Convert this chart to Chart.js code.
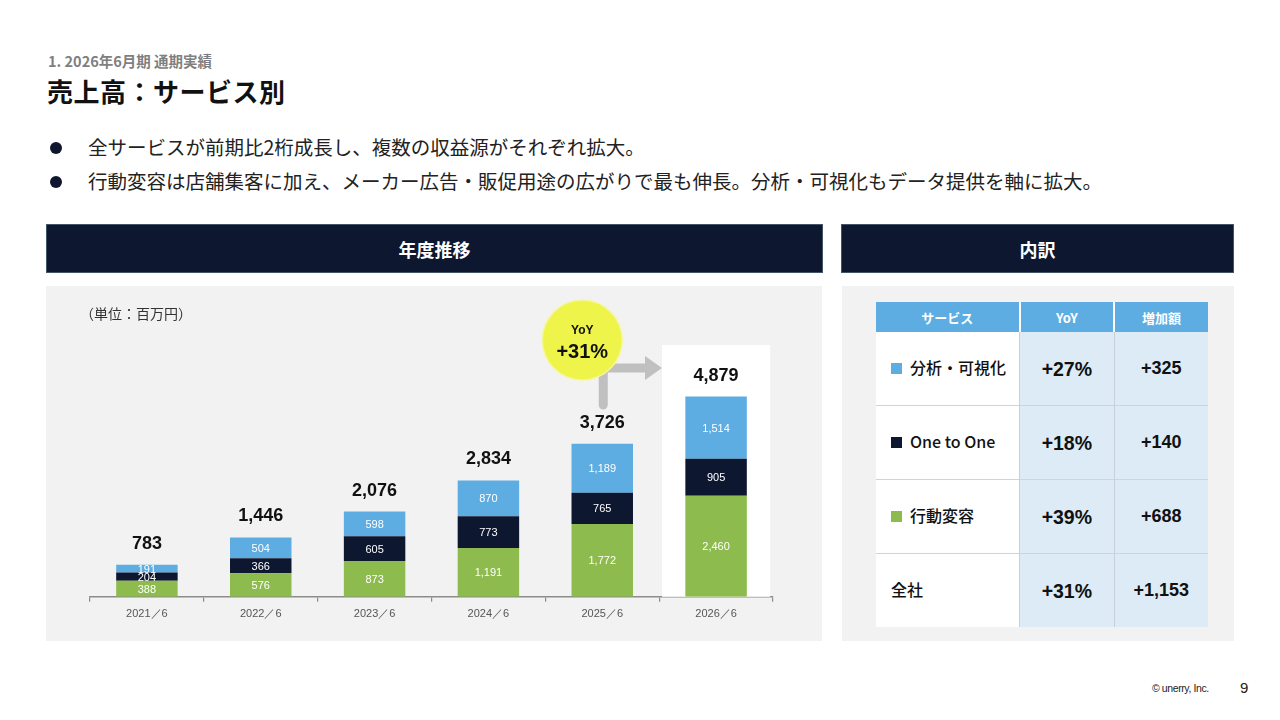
<!DOCTYPE html>
<html lang="ja">
<head>
<meta charset="utf-8">
<script src="https://cdn.jsdelivr.net/npm/chart.js@4.4.1/dist/chart.umd.min.js"></script>
<style>
  html, body { margin:0; padding:0; background:#fff; }
  body { width:1280px; height:720px; position:relative; overflow:hidden;
         font-family:"Noto Sans CJK JP","Noto Sans",sans-serif; color:#222; }
  .abs { position:absolute; }
  #sub { left:48px; top:50px; font-size:14.5px; font-weight:700; color:#7f7f7f; }
  #title { left:47px; top:72px; font-size:26px; font-weight:700; color:#111; letter-spacing:0.5px; }
  .bullet { left:48px; font-size:19.5px; color:#222; white-space:nowrap; }
  .bullet .dot { display:inline-block; width:12px; height:12px; border-radius:50%; background:#0f172e;
                 position:absolute; left:2px; top:8px; }
  .bullet .txt { position:absolute; left:40px; top:-2px; }
  .sec { background:#0e1730; border:1px solid #44546a; color:#fff; font-size:18px; font-weight:700;
         display:flex; align-items:center; justify-content:center; box-sizing:border-box; }
  .panel { background:#f2f2f2; }
  #unit { left:80px; top:303px; font-size:14px; color:#333; }
  table { border-collapse:collapse; position:absolute; left:876px; top:302px; width:332px; }
  th { background:#5dade2; color:#fff; font-size:13px; font-weight:700; height:30px; padding:0;
       border-left:2px solid #fff; }
  th:first-child { border-left:none; }
  td { height:73px; padding:0; border-top:1.5px solid #cdd5dc; }
  tr:first-child td { border-top:none; }
  td.lab { background:#fff; width:145px; font-size:16px; font-weight:500; color:#111; padding-left:15px; box-sizing:border-box; }
  td.lab .in { position:relative; top:-2px; }
  td.v { background:#ddebf7; width:94px; text-align:center; font-family:"Liberation Sans",Arial,sans-serif;
         font-weight:700; font-size:18px; color:#111; border-left:1.5px solid #c6d0da; }
  td.v.yoy { font-size:19.5px; }
  td.v.yoy .in { position:relative; top:1px; }
  td.lab .sq { display:inline-block; width:11px; height:11px; margin-right:8px; vertical-align:0px; }
  #copy { left:1152px; top:682px; font-size:10.5px; color:#222; font-family:"Liberation Sans",Arial,sans-serif; letter-spacing:-0.4px; }
  #page { left:1240px; top:679px; font-size:15px; color:#222; font-family:"Liberation Sans",Arial,sans-serif; }
  #chartBox { left:46px; top:286px; width:776px; height:355px; }
</style>
</head>
<body>
<div class="abs" id="sub">1. 2026年6月期 通期実績</div>
<div class="abs" id="title">売上高：サービス別</div>
<div class="abs bullet" style="top:134px;"><span class="dot"></span><span class="txt">全サービスが前期比2桁成長し、複数の収益源がそれぞれ拡大。</span></div>
<div class="abs bullet" style="top:168px;"><span class="dot"></span><span class="txt">行動変容は店舗集客に加え、メーカー広告・販促用途の広がりで最も伸長。分析・可視化もデータ提供を軸に拡大。</span></div>

<div class="abs sec" style="left:46px; top:224px; width:777px; height:49px;">年度推移</div>
<div class="abs sec" style="left:841px; top:224px; width:393px; height:49px;">内訳</div>

<div class="abs panel" style="left:46px; top:286px; width:776px; height:355px;"></div>
<div class="abs panel" style="left:842px; top:286px; width:392px; height:355px;"></div>

<div class="abs" id="chartBox"><canvas id="c"></canvas></div>
<div class="abs" id="unit">（単位：百万円）</div>

<table>
  <thead><tr><th>サービス</th><th>YoY</th><th>増加額</th></tr></thead>
  <tbody id="tb"></tbody>
</table>

<div class="abs" id="copy">© unerry, Inc.</div>
<div class="abs" id="page">9</div>

<script>
// ---- data ----
const categories = ["2021／6","2022／6","2023／6","2024／6","2025／6","2026／6"];
const behaviorChange = [388, 576, 873, 1191, 1772, 2460];   // 行動変容
const oneToOne      = [204, 366, 605, 773, 765, 905];       // One to One
const analytics     = [191, 504, 598, 870, 1189, 1514];     // 分析・可視化
const totals        = [783, 1446, 2076, 2834, 3726, 4879];
const yoyLabel = "+31%";

const tableServices = ["分析・可視化", "One to One", "行動変容", "全社"];
const tableYoY      = ["+27%", "+18%", "+39%", "+31%"];
const tableIncrease = ["+325", "+140", "+688", "+1,153"];

const colors = { analytics:"#5dade2", oneToOne:"#0e1730", behavior:"#8dbb4e" };
const tableColors = [colors.analytics, colors.oneToOne, colors.behavior, null];

// ---- table ----
const tb = document.getElementById('tb');
tableServices.forEach((s, i) => {
  const tr = document.createElement('tr');
  const sq = tableColors[i] ? `<span class="sq" style="background:${tableColors[i]}"></span>` : '';
  tr.innerHTML = `<td class="lab"><span class="in">${sq}${s}</span></td><td class="v yoy"><span class="in">${tableYoY[i]}</span></td><td class="v">${tableIncrease[i]}</td>`;
  tb.appendChild(tr);
});

// ---- chart ----
const fmt = v => v.toLocaleString('en-US');

const decor = {
  id: 'decor',
  beforeDatasetsDraw(chart) {
    const { ctx, scales: { x, y } } = chart;
    const cx = x.getPixelForValue(5);
    const half = (x.getPixelForValue(1) - x.getPixelForValue(0)) * 0.475;
    const top = y.getPixelForValue(6134);
    ctx.save();
    ctx.fillStyle = '#ffffff';
    ctx.fillRect(cx - half, top, half * 2, y.getPixelForValue(0) - top);
    ctx.restore();
  },
  afterDatasetsDraw(chart) {
    const { ctx, scales: { x, y } } = chart;
    ctx.save();
    // segment labels
    ctx.textAlign = 'center';
    ctx.textBaseline = 'middle';
    ctx.font = '11px "Liberation Sans", Arial, sans-serif';
    chart.data.datasets.forEach((ds, di) => {
      const meta = chart.getDatasetMeta(di);
      meta.data.forEach((bar, i) => {
        ctx.fillStyle = '#ffffff';
        ctx.fillText(fmt(ds.data[i]), bar.x, (bar.y + bar.base) / 2 + 1);
      });
    });
    // totals
    ctx.font = 'bold 18px "Liberation Sans", Arial, sans-serif';
    ctx.fillStyle = '#111';
    const topMeta = chart.getDatasetMeta(chart.data.datasets.length - 1);
    topMeta.data.forEach((bar, i) => {
      ctx.fillText(fmt(totals[i]), bar.x, bar.y - 21);
    });
    // arrow
    const x4 = x.getPixelForValue(4), x5 = x.getPixelForValue(5);
    const half = (x5 - x4) * 0.475;
    const ax = x4 + 1;
    const ayTop = y.getPixelForValue(5575);
    const ayBot = y.getPixelForValue(4674);
    const headX = x5 - half;
    ctx.strokeStyle = '#c0c0c0';
    ctx.fillStyle = '#c0c0c0';
    ctx.lineWidth = 9;
    ctx.lineCap = 'round';
    ctx.lineJoin = 'miter';
    ctx.beginPath();
    ctx.moveTo(ax, ayBot);
    ctx.lineTo(ax, ayTop);
    ctx.lineTo(headX - 15, ayTop);
    ctx.stroke();
    ctx.beginPath();
    ctx.moveTo(headX - 17, ayTop - 12);
    ctx.lineTo(headX, ayTop);
    ctx.lineTo(headX - 17, ayTop + 12);
    ctx.closePath();
    ctx.fill();
    // bubble
    const bx = x4 - 20, by = y.getPixelForValue(6256);
    ctx.beginPath();
    ctx.arc(bx, by, 40, 0, Math.PI * 2);
    ctx.fillStyle = '#eef449';
    ctx.fill();
    ctx.lineWidth = 1.5;
    ctx.strokeStyle = '#f4f7a0';
    ctx.stroke();
    ctx.fillStyle = '#111';
    ctx.font = 'bold 12px "Liberation Sans", Arial, sans-serif';
    ctx.fillText('YoY', bx, by - 9);
    ctx.font = 'bold 20px "Liberation Sans", Arial, sans-serif';
    ctx.fillText(yoyLabel, bx, by + 12);
    ctx.restore();
  }
};

new Chart(document.getElementById('c'), {
  type: 'bar',
  data: {
    labels: categories,
    datasets: [
      { label: '行動変容', data: behaviorChange, backgroundColor: colors.behavior },
      { label: 'One to One', data: oneToOne, backgroundColor: colors.oneToOne },
      { label: '分析・可視化', data: analytics, backgroundColor: colors.analytics }
    ]
  },
  options: {
    responsive: true,
    maintainAspectRatio: false,
    animation: false,
    devicePixelRatio: 1,
    layout: { padding: { left: 44, right: 49, top: 44, bottom: 14 } },
    datasets: { bar: { categoryPercentage: 1, barPercentage: 0.54 } },
    plugins: { legend: { display: false }, tooltip: { enabled: false } },
    scales: {
      x: {
        stacked: true,
        grid: { display: true, drawOnChartArea: false, drawTicks: true, tickLength: 5, color: '#8c8c8c', lineWidth: 1.2, offset: true },
        border: { display: true, color: '#8c8c8c', width: 1.5 },
        ticks: { color: '#555', font: { size: 11, family: '"Liberation Sans", Arial, sans-serif' }, padding: 6 }
      },
      y: { stacked: true, display: false, min: 0, max: 6500 }
    }
  },
  plugins: [decor]
});
</script>
</body>
</html>
